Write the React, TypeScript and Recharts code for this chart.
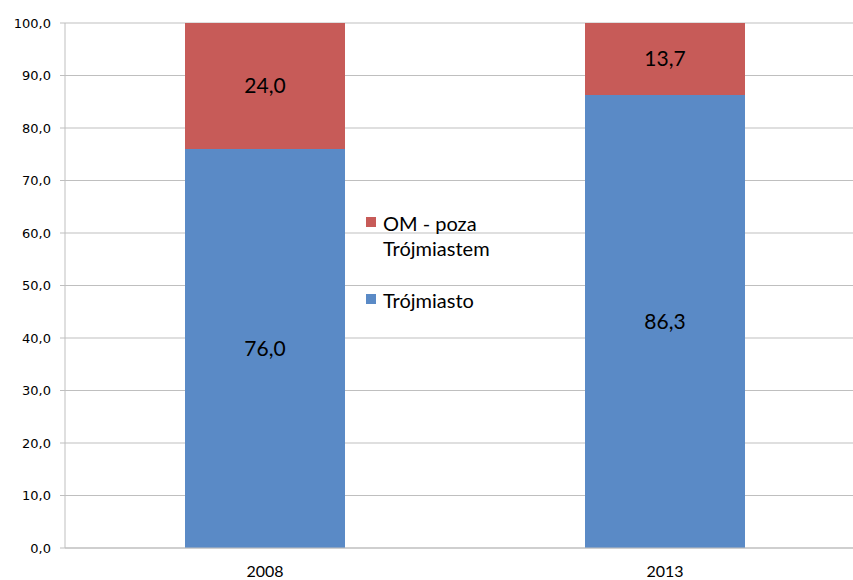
import React from "react";
import { BarChart, Bar, XAxis, YAxis, CartesianGrid, LabelList } from "recharts";

const YEARS = ["2008", "2013"];
const TROJMIASTO = [76.0, 86.3];
const POZA = [24.0, 13.7];
const Y_TICKS = [0, 10, 20, 30, 40, 50, 60, 70, 80, 90, 100];

const BLUE = "#5a8ac6";
const RED = "#c75b58";
const GRID = "#bfbfbf";

const DATA = YEARS.map((year, i) => ({
  year,
  trojmiasto: TROJMIASTO[i],
  poza: POZA[i],
}));

const fmt = (v: number) => Number(v).toFixed(1).replace(".", ",");

const LEGEND_ITEMS = [
  { label: ["OM - poza", "Trójmiastem"], color: RED },
  { label: ["Trójmiasto"], color: BLUE },
];

function LegendBox() {
  return (
    <div
      style={{
        position: "absolute",
        left: 366,
        top: 211,
        fontFamily: "Lato, sans-serif",
        fontSize: 20,
        color: "#000",
        lineHeight: "25px",
      }}
    >
      {LEGEND_ITEMS.map((item, i) => (
        <div key={i} style={{ display: "flex", alignItems: "flex-start", marginBottom: i === 0 ? 27 : 0 }}>
          <span
            style={{
              display: "inline-block",
              width: 10,
              height: 10,
              background: item.color,
              marginTop: 6,
              marginRight: 7,
            }}
          />
          <div>
            {item.label.map((l, j) => (
              <div key={j}>{l}</div>
            ))}
          </div>
        </div>
      ))}
    </div>
  );
}

export default function App() {
  return (
    <div
      style={{
        position: "fixed",
        left: 0,
        top: 0,
        width: 853,
        height: 580,
        overflow: "hidden",
        background: "#fff",
      }}
    >
      <BarChart
        width={870}
        height={580}
        data={DATA}
        margin={{ top: 23, right: 5, left: 0, bottom: 0 }}
        barCategoryGap="30%"
      >
        <CartesianGrid vertical={false} stroke={GRID} />
        <XAxis
          dataKey="year"
          height={32}
          tickLine={false}
          axisLine={{ stroke: GRID }}
          tickMargin={12}
          tick={{ fill: "#000", fontSize: 16, fontFamily: "Lato, sans-serif" }}
        />
        <YAxis
          width={65}
          domain={[0, 100]}
          ticks={Y_TICKS}
          interval={0}
          tickFormatter={fmt}
          tickSize={5}
          tickMargin={9}
          axisLine={{ stroke: GRID }}
          tickLine={{ stroke: GRID }}
          tick={{ fill: "#000", fontSize: 13, fontFamily: "DejaVu Sans, sans-serif" }}
        />
        <Bar dataKey="trojmiasto" name="Trójmiasto" stackId="a" fill={BLUE} isAnimationActive={false}>
          <LabelList
            dataKey="trojmiasto"
            position="center"
            formatter={fmt}
            fill="#000"
            style={{ fontSize: 21, fontFamily: "Lato, sans-serif" }}
          />
        </Bar>
        <Bar dataKey="poza" name="OM - poza Trójmiastem" stackId="a" fill={RED} isAnimationActive={false}>
          <LabelList
            dataKey="poza"
            position="center"
            formatter={fmt}
            fill="#000"
            style={{ fontSize: 21, fontFamily: "Lato, sans-serif" }}
          />
        </Bar>
      </BarChart>
      <LegendBox />
    </div>
  );
}
